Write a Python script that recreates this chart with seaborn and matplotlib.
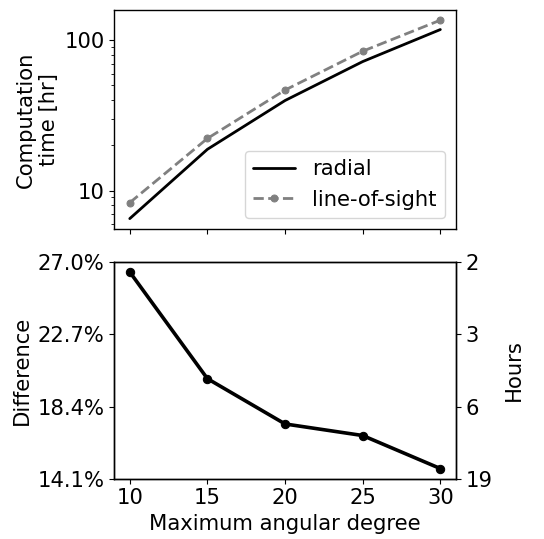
import numpy as np
import pandas as pd
import matplotlib
matplotlib.use("Agg")
import matplotlib.pyplot as plt
import seaborn as sns

degrees = [10, 15, 20, 25, 30]
radial_hr = [6.5, 18.8, 39.7, 72.1, 117.8]
los_hr = [8.3, 22.2, 46.6, 84.5, 136.0]
difference_pct = [26.42, 20.06, 17.36, 16.67, 14.7]
diff_ticks = [14.1, 18.4, 22.7, 27.0]
hours_labels = ["19", "6", "3", "2"]

sns.set_style("ticks")
plt.rcParams["font.family"] = ["DejaVu Sans"]
FS = 15.2
plt.rcParams.update({
    "font.size": FS,
    "text.color": "black",
    "axes.labelcolor": "black",
    "xtick.color": "black",
    "ytick.color": "black",
    "axes.edgecolor": "black",
})

fig = plt.figure(figsize=(5.44, 5.39), dpi=100)
ax1 = fig.add_axes([0.210, 0.576, 0.628, 0.405])
ax2 = fig.add_axes([0.210, 0.112, 0.628, 0.4014], sharex=ax1)

df = pd.DataFrame({"deg": degrees, "radial": radial_hr, "los": los_hr, "diff": difference_pct})

sns.lineplot(data=df, x="deg", y="radial", ax=ax1, color="black", linewidth=2.0, label="radial")
sns.lineplot(data=df, x="deg", y="los", ax=ax1, color="gray", linewidth=2.0, linestyle="--",
             marker="o", markersize=5, markeredgecolor="gray", label="line-of-sight")
ax1.set_yscale("log")
ax1.set_yticks([10, 100])
ax1.set_yticklabels(["10", "100"])
ax1.set_ylabel("Computation\ntime [hr]", fontsize=FS)
ax1.set_xlabel("")
ax1.tick_params(labelbottom=False, labelsize=FS)
ax1.legend(loc="lower right", fontsize=FS, frameon=True)

sns.lineplot(data=df, x="deg", y="diff", ax=ax2, color="black", linewidth=2.6,
             marker="o", markersize=6, markeredgecolor="black")
ax2.set_ylim(diff_ticks[0], diff_ticks[-1])
ax2.set_yticks(diff_ticks)
ax2.set_yticklabels([f"{v:.1f}%" for v in diff_ticks])
ax2.set_xticks(degrees)
ax2.set_xlabel("Maximum angular degree", fontsize=FS)
ax2.set_ylabel("Difference", fontsize=FS)
ax2.tick_params(labelsize=FS)

ax3 = ax2.twinx()
ax3.set_ylim(diff_ticks[0], diff_ticks[-1])
ax3.set_yticks(diff_ticks)
ax3.set_yticklabels(hours_labels)
ax3.set_ylabel("Hours", fontsize=FS, labelpad=8)
ax3.tick_params(labelsize=FS)

for ax in (ax1, ax2, ax3):
    for s in ax.spines.values():
        s.set_linewidth(1.0)
        s.set_color("black")

fig.savefig("out.png", dpi=100)
